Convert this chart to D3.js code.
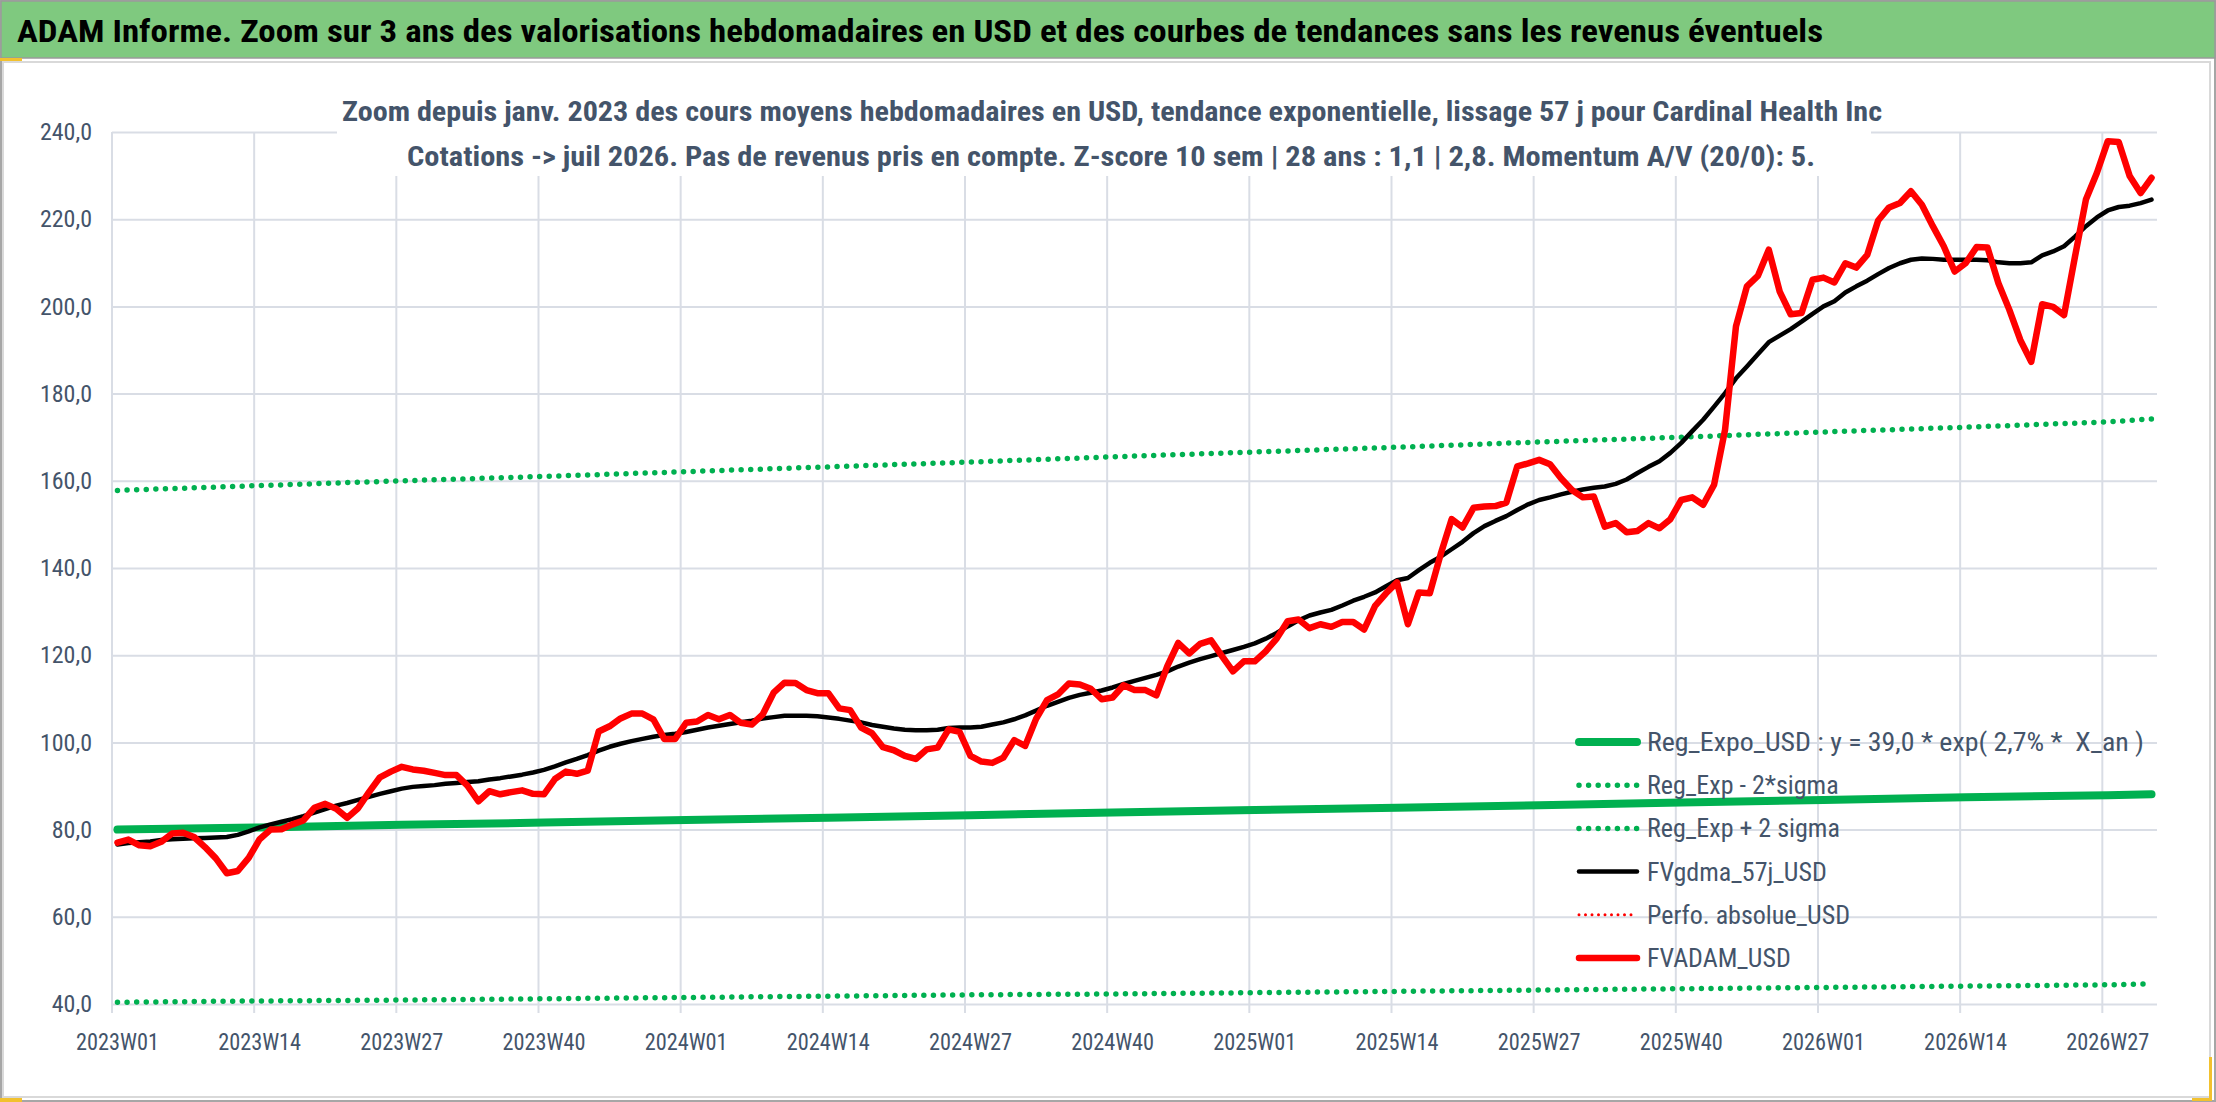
<!DOCTYPE html>
<html>
<head>
<meta charset="utf-8">
<script src="https://cdn.jsdelivr.net/npm/d3@7"></script>
<style>
  body { margin: 0; background: #fff; }
  svg { display: block; }
  text { font-family: "Liberation Sans Narrow", "Roboto Condensed", "DejaVu Sans Condensed", sans-serif; }
</style>
</head>
<body>
<svg id="chart" width="2216" height="1102"></svg>
<script>
// weekly categories 2023W01 .. 2026W31
const years = [2023, 2024, 2025, 2026];
const categories = [];
years.forEach(yr => {
  for (let w = 1; w <= 52; w++) categories.push(yr + "W" + String(w).padStart(2, "0"));
});
categories.length = 187;

const tickLabels = ["2023W01", "2023W14", "2023W27", "2023W40", "2024W01", "2024W14", "2024W27",
  "2024W40", "2025W01", "2025W14", "2025W27", "2025W40", "2026W01", "2026W14", "2026W27"];
const yTicks = [40, 60, 80, 100, 120, 140, 160, 180, 200, 220, 240];

// trend curves, read at each labelled week + last week
const trendWeeks = tickLabels.concat(["2026W31"]);
const regExpo = [80.0, 80.5, 81.1, 81.6, 82.2, 82.7, 83.3, 83.9, 84.5, 85.0, 85.6, 86.2, 86.8, 87.4, 87.9, 88.1];
const regLow = [40.4, 40.7, 40.9, 41.2, 41.5, 41.8, 42.1, 42.3, 42.6, 42.9, 43.2, 43.5, 43.8, 44.1, 44.4, 44.6];
const regHigh = [157.8, 158.9, 160.0, 161.0, 162.1, 163.2, 164.3, 165.5, 166.6, 167.7, 168.9, 170.0, 171.2, 172.3, 173.5, 174.2];

// FVgdma_57j_USD (smoothed), one value per week
const fvgdma = [
  76.6, 76.9, 77.1, 77.3, 77.6, 77.8, 77.9, 78.0, 78.1, 78.2, 78.3, 78.8, 79.6, 80.5, 81.2, 81.8,
  82.4, 83.1, 83.9, 84.7, 85.5, 86.1, 86.8, 87.5, 88.2, 88.8, 89.4, 89.8, 90.0, 90.2, 90.5, 90.7,
  90.9, 91.1, 91.5, 91.8, 92.2, 92.6, 93.1, 93.7, 94.5, 95.4, 96.2, 97.1, 98.1, 99.0, 99.7, 100.3,
  100.8, 101.3, 101.7, 102.0, 102.4, 102.9, 103.4, 103.8, 104.2, 104.6, 105.0, 105.5, 105.8, 106.1,
  106.1, 106.1, 106.0, 105.7, 105.4, 105.0, 104.6, 104.0, 103.6, 103.2, 102.9, 102.8, 102.8, 102.9,
  103.3, 103.4, 103.4, 103.6, 104.1, 104.6, 105.3, 106.2, 107.3, 108.4, 109.3, 110.2, 110.9, 111.4,
  111.9, 112.6, 113.4, 114.1, 114.8, 115.5, 116.3, 117.4, 118.3, 119.1, 119.8, 120.5, 121.2, 121.9,
  122.7, 123.8, 125.1, 126.6, 128.0, 129.1, 129.8, 130.4, 131.4, 132.5, 133.4, 134.4, 135.8, 137.2,
  137.7, 139.5, 141.2, 142.6, 144.3, 146.0, 148.0, 149.6, 150.8, 151.9, 153.3, 154.6, 155.6, 156.2,
  156.9, 157.5, 158.0, 158.4, 158.7, 159.3, 160.3, 161.8, 163.2, 164.5, 166.4, 168.7, 171.4, 174.0,
  177.0, 180.1, 183.5, 186.2, 189.0, 191.8, 193.3, 194.8, 196.5, 198.3, 200.0, 201.2, 203.2, 204.6,
  205.9, 207.4, 208.8, 209.9, 210.7, 211.0, 210.9, 210.7, 210.7, 210.7, 210.7, 210.6, 210.1, 209.9,
  209.9, 210.1, 211.7, 212.6, 213.8, 216.0, 218.4, 220.4, 222.0, 222.8, 223.1, 223.7, 224.5
];

// FVADAM_USD, one value per week
const fvadam = [
  77.0, 77.7, 76.4, 76.2, 77.2, 79.1, 79.3, 78.3, 76.0, 73.4, 70.0, 70.5, 73.5, 77.8, 80.0, 80.1,
  81.2, 82.1, 85.0, 85.9, 84.8, 82.7, 84.9, 88.6, 92.0, 93.3, 94.4, 93.8, 93.5, 93.0, 92.5, 92.5,
  90.1, 86.5, 88.8, 88.1, 88.6, 89.0, 88.2, 88.1, 91.6, 93.3, 92.8, 93.5, 102.5, 103.7, 105.5, 106.6,
  106.6, 105.3, 100.8, 100.8, 104.5, 104.8, 106.3, 105.3, 106.3, 104.5, 104.1, 106.4, 111.4, 113.7,
  113.6, 112.0, 111.3, 111.3, 107.8, 107.4, 103.4, 102.1, 98.9, 98.2, 96.9, 96.2, 98.4, 98.8,
  103.0, 102.4, 96.9, 95.6, 95.3, 96.5, 100.5, 99.2, 105.4, 109.7, 111.0, 113.5, 113.3, 112.3,
  109.9, 110.3, 113.1, 112.0, 112.0, 110.8, 117.5, 122.8, 120.4, 122.6, 123.4, 119.8, 116.3, 118.6,
  118.6, 120.9, 123.8, 127.8, 128.2, 126.2, 127.1, 126.5, 127.6, 127.6, 125.9, 131.3, 134.2, 136.7,
  127.1, 134.4, 134.2, 143.2, 151.2, 149.3, 153.8, 154.1, 154.2, 155.0, 163.3, 164.0, 164.8, 163.8,
  160.6, 157.9, 156.2, 156.4, 149.5, 150.3, 148.2, 148.5, 150.3, 149.1, 151.2, 155.6, 156.2, 154.5,
  159.1, 171.7, 195.4, 204.6, 207.0, 213.0, 203.4, 198.2, 198.5, 206.1, 206.6, 205.5, 209.9, 208.9,
  211.8, 219.7, 222.7, 223.7, 226.4, 223.3, 218.4, 213.8, 208.0, 209.9, 213.6, 213.5, 205.3, 199.2,
  192.3, 187.3, 200.5, 199.9, 198.0, 211.4, 224.5, 230.6, 237.9, 237.7, 229.9, 226.0, 229.5
];

const legendItems = [
  { label: "Reg_Expo_USD : y = 39,0 * exp( 2,7% *  X_an )", color: "#00b050", width: 8, dash: null, len: 497 },
  { label: "Reg_Exp - 2*sigma", color: "#00b050", width: 5.5, dash: "0 9.6" },
  { label: "Reg_Exp + 2 sigma", color: "#00b050", width: 5.5, dash: "0 9.6" },
  { label: "FVgdma_57j_USD", color: "#000000", width: 4.5, dash: null },
  { label: "Perfo. absolue_USD", color: "#ff0000", width: 3, dash: "0 6.5" },
  { label: "FVADAM_USD", color: "#ff0000", width: 6.5, dash: null }
];

const svg = d3.select("#chart");
const textColor = "#44546a";
const gridColor = "#d9dde5";

// outer frame
svg.append("rect").attr("x", 1).attr("y", 1).attr("width", 2214).attr("height", 1100)
  .attr("fill", "#fff").attr("stroke", "#a6a6a6").attr("stroke-width", 2);

// title banner
svg.append("rect").attr("x", 1).attr("y", 1).attr("width", 2214).attr("height", 57)
  .attr("fill", "#7fc97f").attr("stroke", "#9a9a9a").attr("stroke-width", 1.5);
svg.append("text")
  .attr("x", 17).attr("y", 42)
  .attr("font-size", 32).attr("font-weight", "bold").attr("fill", "#000")
  .attr("textLength", 1806).attr("lengthAdjust", "spacingAndGlyphs")
  .text("ADAM Informe. Zoom sur 3 ans des valorisations hebdomadaires en USD et des courbes de tendances sans les revenus éventuels");

// chart area frame
svg.append("rect").attr("x", 3).attr("y", 62).attr("width", 2207).attr("height", 1035)
  .attr("fill", "#fff").attr("stroke", "#d9d9d9").attr("stroke-width", 2);

// excel selection marks
svg.append("rect").attr("x", 0).attr("y", 58).attr("width", 22).attr("height", 3).attr("fill", "#f2c12e");
svg.append("rect").attr("x", 0).attr("y", 1098).attr("width", 22).attr("height", 4).attr("fill", "#f2c12e");
svg.append("rect").attr("x", 2209).attr("y", 1057).attr("width", 3).attr("height", 43).attr("fill", "#f2c12e");
svg.append("rect").attr("x", 2192).attr("y", 1098).attr("width", 20).attr("height", 3).attr("fill", "#f2c12e");

const margin = { left: 112, right: 2157, top: 132, bottom: 1004 };

const x = d3.scaleBand().domain(categories).range([margin.left, margin.right]).padding(0);
const bw = x.bandwidth();
const y = d3.scaleLinear().domain([40, 240]).range([margin.bottom, margin.top]);

// horizontal grid + y labels
const yAxis = d3.axisLeft(y)
  .tickValues(yTicks)
  .tickSize(-(margin.right - margin.left))
  .tickPadding(20)
  .tickFormat(d => d3.format(".1f")(d).replace(".", ","));

const gy = svg.append("g").attr("transform", `translate(${margin.left},0)`).call(yAxis);
gy.select(".domain").remove();
gy.selectAll(".tick line").attr("stroke", gridColor).attr("stroke-width", 2);
gy.selectAll(".tick text").attr("fill", textColor).attr("font-size", 24)
  .attr("font-family", "Liberation Sans Narrow, Roboto Condensed, DejaVu Sans Condensed, sans-serif");

// vertical grid at week boundaries
svg.append("g").selectAll("line")
  .data(tickLabels)
  .join("line")
  .attr("x1", d => x(d)).attr("x2", d => x(d))
  .attr("y1", margin.top).attr("y2", margin.bottom + 9)
  .attr("stroke", gridColor).attr("stroke-width", 2);

// x labels
const xAxis = d3.axisBottom(x).tickValues(tickLabels).tickSize(0).tickPadding(29);
const gx = svg.append("g").attr("transform", `translate(0,${margin.bottom})`).call(xAxis);
gx.select(".domain").remove();
gx.selectAll(".tick text").attr("fill", textColor).attr("font-size", 24)
  .attr("textLength", 83).attr("lengthAdjust", "spacingAndGlyphs")
  .attr("font-family", "Liberation Sans Narrow, Roboto Condensed, DejaVu Sans Condensed, sans-serif");

// subtitle box (hides the grid behind it)
svg.append("rect").attr("x", 337).attr("y", 84).attr("width", 1534).attr("height", 92).attr("fill", "#fff");
svg.append("text")
  .attr("x", 1112).attr("y", 121).attr("text-anchor", "middle")
  .attr("font-size", 27).attr("font-weight", "bold").attr("fill", textColor)
  .attr("textLength", 1540).attr("lengthAdjust", "spacingAndGlyphs")
  .text("Zoom depuis janv. 2023 des cours moyens hebdomadaires en USD, tendance exponentielle, lissage 57 j pour Cardinal Health Inc");
svg.append("text")
  .attr("x", 1111).attr("y", 166).attr("text-anchor", "middle")
  .attr("font-size", 27).attr("font-weight", "bold").attr("fill", textColor)
  .attr("textLength", 1408).attr("lengthAdjust", "spacingAndGlyphs")
  .text("Cotations -> juil 2026. Pas de revenus pris en compte. Z-score 10 sem | 28 ans : 1,1 | 2,8. Momentum A/V (20/0): 5.");

// series
const cx = c => x(c) + bw / 2;
const line = d3.line().x(d => cx(d[0])).y(d => y(d[1]));

function drawSeries(cats, values, color, width, dash) {
  const path = svg.append("path")
    .datum(cats.map((c, i) => [c, values[i]]))
    .attr("d", line)
    .attr("fill", "none")
    .attr("stroke", color)
    .attr("stroke-width", width)
    .attr("stroke-linejoin", "round")
    .attr("stroke-linecap", "round");
  if (dash) path.attr("stroke-dasharray", dash);
  return path;
}

drawSeries(trendWeeks, regExpo, "#00b050", 8, null);
drawSeries(trendWeeks, regLow, "#00b050", 5.5, "0 9.6");
drawSeries(trendWeeks, regHigh, "#00b050", 5.5, "0 9.6");
drawSeries(categories, fvgdma, "#000000", 4.5, null);
drawSeries(categories, fvadam, "#ff0000", 6.5, null);

// legend
const legend = svg.append("g").attr("transform", "translate(1577,742)");
const rows = legend.selectAll("g")
  .data(legendItems)
  .join("g")
  .attr("transform", (d, i) => `translate(0,${i * 43.2})`);
rows.append("line")
  .attr("x1", 2).attr("x2", 60).attr("y1", 0).attr("y2", 0)
  .attr("stroke", d => d.color)
  .attr("stroke-width", d => d.width)
  .attr("stroke-linecap", "round")
  .attr("stroke-dasharray", d => d.dash);
rows.append("text")
  .attr("x", 70).attr("y", 9)
  .attr("font-size", 26).attr("fill", textColor)
  .style("white-space", "pre")
  .attr("textLength", d => d.len || null)
  .attr("lengthAdjust", "spacingAndGlyphs")
  .text(d => d.label);
</script>
</body>
</html>
